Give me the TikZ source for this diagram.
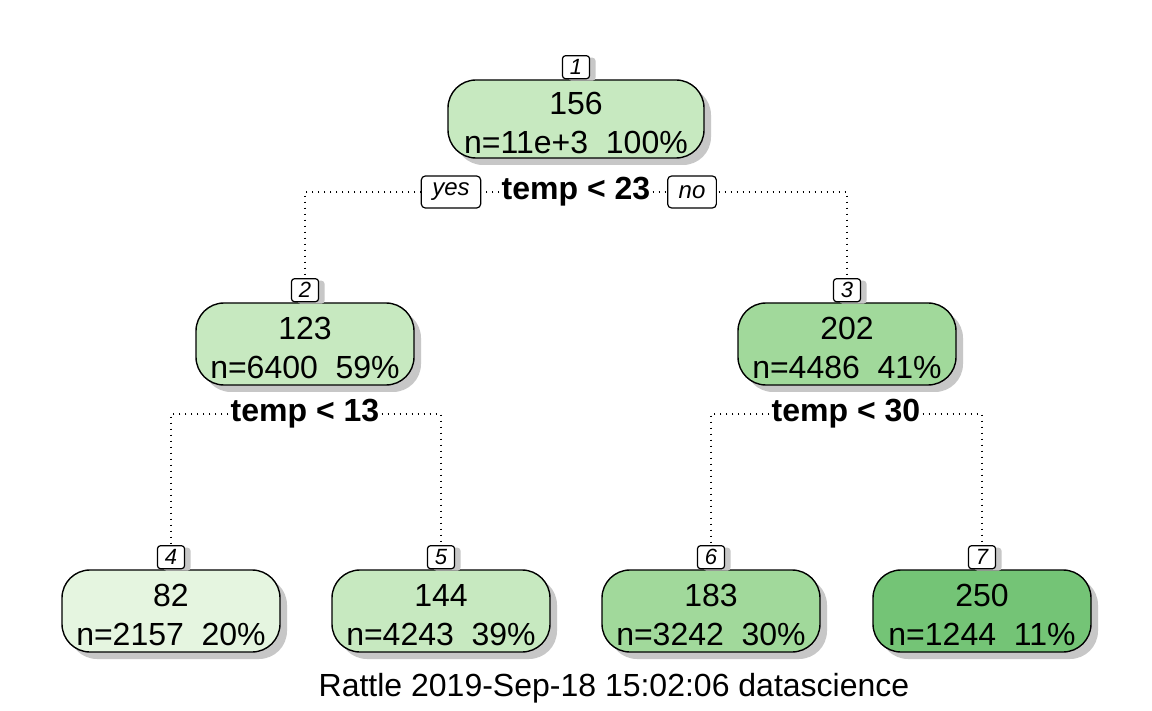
\documentclass[tikz,border=0pt]{standalone}
\usepackage{fontspec}
\setmainfont{Liberation Sans}
\usetikzlibrary{positioning,shadows}

\definecolor{grnA}{HTML}{E5F5E0}
\definecolor{grnB}{HTML}{C7E9C0}
\definecolor{grnC}{HTML}{A1D99B}
\definecolor{grnD}{HTML}{74C476}

% strut that pushes the box text a little down
\newcommand{\boxstrut}{\rule{0pt}{15.5pt}}

\begin{document}
\begin{tikzpicture}[x=0.5pt,y=-0.5pt,
    every node/.style={font=\fontsize{16}{19.5}\selectfont},
    treebox/.style={draw, line width=0.7pt, rounded corners=14pt, align=center,
        inner sep=0pt, minimum width=109pt, minimum height=41pt,
        drop shadow={shadow xshift=3.5pt, shadow yshift=-3.5pt, fill=black!22, opacity=1}},
    idbox/.style={draw, fill=white, line width=0.6pt, rounded corners=1.5pt, inner sep=0pt,
        minimum width=13.5pt, minimum height=11.5pt, font=\fontsize{11}{11}\selectfont\itshape,
        drop shadow={shadow xshift=3pt, shadow yshift=-1pt, fill=black!22, opacity=1}},
    yesno/.style={draw, fill=white, line width=0.6pt, rounded corners=2pt, inner xsep=5.5pt,
        inner ysep=0pt, minimum height=16pt, font=\fontsize{12}{12}\selectfont\itshape},
    splitlab/.style={fill=white, inner sep=1pt, font=\fontsize{16}{16}\selectfont\bfseries},
    splitline/.style={line width=0.8pt, dash pattern=on 0.8pt off 2.2pt}]

    % Page frame
    \useasboundingbox[fill=white] (0,0) rectangle (1152,711);

    % Root and inner nodes
    \node[treebox, fill=grnB, minimum width=128pt, minimum height=39pt] (n1) at (576,119) {\boxstrut 156\\n=11e+3\ \ 100\%};
    \node[idbox, above=0pt of n1] (lab1) {1};
    \node[treebox, fill=grnB] (n2) at (305,344) {\boxstrut 123\\n=6400\ \ 59\%};
    \node[idbox, above=0pt of n2] (lab2) {2};
    \node[treebox, fill=grnC] (n3) at (847,344) {\boxstrut 202\\n=4486\ \ 41\%};
    \node[idbox, above=0pt of n3] (lab3) {3};

    % Leaves
    \foreach \id/\x/\val/\cnt/\pc/\col in {4/171/82/2157/20/grnA, 5/441/144/4243/39/grnB,
        6/711/183/3242/30/grnC, 7/982/250/1244/11/grnD} {
        \node[treebox, fill=\col] (n\id) at (\x,611) {\boxstrut\val\\n=\cnt\ \ \pc\%};
        \node[idbox, above=0pt of n\id] (lab\id) {\id};
    }

    % Split labels
    \node[splitlab] (s1) at (576,192) {temp < 23};
    \node[splitlab] (s2) at (305,414) {temp < 13};
    \node[splitlab] (s3) at (846,414) {temp < 30};

    % Dotted branches
    \draw[splitline] (s1.west) -| (lab2.north);
    \draw[splitline] (s1.east) -| (lab3.north);
    \draw[splitline] (s2.west) -| (lab4.north);
    \draw[splitline] (s2.east) -| (lab5.north);
    \draw[splitline] (s3.west) -| (lab6.north);
    \draw[splitline] (s3.east) -| (lab7.north);

    % yes / no tags
    \node[yesno] (yes) at (451,192) {yes};
    \node[yesno] (no) at (692,192) {no};

    % Caption
    \node (cap) at (614,688) {Rattle 2019-Sep-18 15:02:06 datascience};
\end{tikzpicture}
\end{document}
